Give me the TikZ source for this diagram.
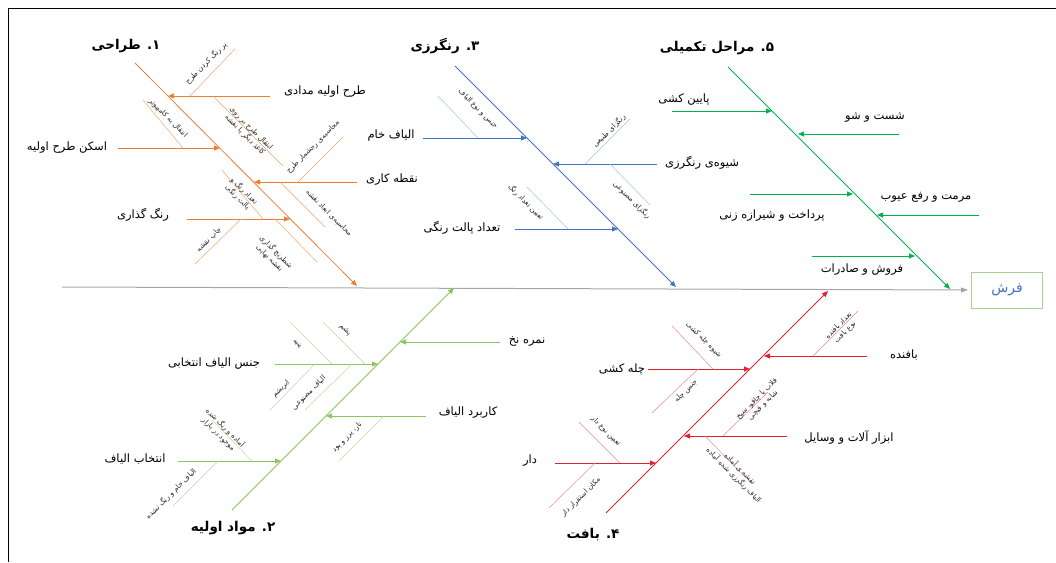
\documentclass[tikz,border=0pt]{standalone}
\usepackage{fontspec}
\usetikzlibrary{arrows.meta}
\TeXXeTstate=1
\newfontfamily\arabicfont[Script=Arabic]{DejaVu Sans}
\newcommand\rtl[1]{\beginR #1\endR}
\definecolor{cOr}{HTML}{ED7D31}
\definecolor{cOrL}{HTML}{F4A46A}
\definecolor{cBl}{HTML}{4472C4}
\definecolor{cBlL}{HTML}{9DC3E6}
\definecolor{cGr}{HTML}{00B050}
\definecolor{cLg}{HTML}{8CC45E}
\definecolor{cLgL}{HTML}{B8DDA0}
\definecolor{cRd}{HTML}{E0202A}
\definecolor{cRdL}{HTML}{EE8A8E}
\definecolor{cSp}{HTML}{A6A6A6}
\definecolor{cBox}{HTML}{A9D18E}
\begin{document}
\begin{tikzpicture}[x=1pt,y=-1pt,
 lbl/.style={font=\arabicfont\fontsize{11.5}{13}\selectfont, inner sep=1pt},
 ttl/.style={font=\arabicfont\bfseries\fontsize{13.5}{15}\selectfont, inner sep=1pt},
 sml/.style={font=\arabicfont\fontsize{7.2}{9}\selectfont, inner sep=0.5pt, align=center, text=black!85},
 bone/.style={line width=0.8pt, -{Triangle[length=6pt,width=5pt]}},
 rib/.style={line width=0.8pt, -{Triangle[length=6pt,width=5pt]}},
 twig/.style={line width=0.5pt},
]
\useasboundingbox (0,0) rectangle (1056,562);
\draw[line width=0.8pt] (8,562) -- (8,8) -- (1056,8);

% spine and head
\node[draw=cBox, line width=1pt, minimum width=71pt, minimum height=36pt, text=cBl,
      font=\arabicfont\fontsize{14}{16}\selectfont] (fsh) at (1007,290) {\rtl{فرش}};
\coordinate (sp) at (62,287);
\draw[line width=1pt, cSp, -{Triangle[length=7pt,width=5pt]}, shorten >=3pt] (sp) -- (fsh.west);

% ===== 1. design (orange)
\coordinate (B1s) at (135,63); \coordinate (B1e) at (357,286);
\draw[bone,cOr] (B1s) -- (B1e);
\node[ttl] (t1) at (126,46) {\rtl{۱. طراحی}};

\node[lbl] (m11) at (325,92) {\rtl{طرح اولیه مدادی}};
\coordinate (r11s) at (270,96); \coordinate (r11e) at (168,96);
\draw[rib,cOr] (r11s) -- (r11e);
\coordinate (w1a) at (190,96); \coordinate (w1b) at (235,49);
\draw[twig,cOrL] (w1a) -- (w1b);
\node[sml,rotate=45] (s1) at (206,63) {\rtl{پر رنگ کردن طرح}};
\coordinate (w2a) at (213,96); \coordinate (w2b) at (283,166);
\draw[twig,cOrL] (w2a) -- (w2b);
\node[sml,rotate=-45] (s2) at (248,132) {\rtl{انتقال طرح بر روی}\\\rtl{کاغذ دیگر یا نقشه}};

\node[lbl] (m12) at (67,148) {\rtl{اسکن طرح اولیه}};
\coordinate (r12s) at (118,148); \coordinate (r12e) at (220,148);
\draw[rib,cOr] (r12s) -- (r12e);
\coordinate (w3a) at (183,148); \coordinate (w3b) at (143,100);
\draw[twig,cOrL] (w3a) -- (w3b);
\node[sml,rotate=-45] (s3) at (168,118) {\rtl{انتقال به کامپیوتر}};

\node[lbl] (m13) at (392,180) {\rtl{نقطه کاری}};
\coordinate (r13s) at (357,182); \coordinate (r13e) at (254,182);
\draw[rib,cOr] (r13s) -- (r13e);
\coordinate (w4a) at (298,182); \coordinate (w4b) at (343,137);
\draw[twig,cOrL] (w4a) -- (w4b);
\node[sml,rotate=45] (s4) at (313,147) {\rtl{محاسبه‌ی رجشمار طرح}};
\coordinate (w5a) at (280,182); \coordinate (w5b) at (325,227);
\draw[twig,cOrL] (w5a) -- (w5b);
\node[sml,rotate=-45] (s5) at (329,213) {\rtl{محاسبه‌ی ابعاد نقشه}};

\node[lbl] (m14) at (143,215) {\rtl{رنگ گذاری}};
\coordinate (r14s) at (187,219); \coordinate (r14e) at (290,219);
\draw[rib,cOr] (r14s) -- (r14e);
\coordinate (w6a) at (263,219); \coordinate (w6b) at (222,170);
\draw[twig,cOrL] (w6a) -- (w6b);
\node[sml,rotate=-45] (s6) at (241,194) {\rtl{تعداد رنگ و}\\\rtl{پالت رنگی}};
\coordinate (w7a) at (241,219); \coordinate (w7b) at (195,264);
\draw[twig,cOrL] (w7a) -- (w7b);
\node[sml,rotate=45] (s7) at (209,240) {\rtl{چاپ نقشه}};
\coordinate (w8a) at (275,219); \coordinate (w8b) at (317,262);
\draw[twig,cOrL] (w8a) -- (w8b);
\node[sml,rotate=-45] (s8) at (273,255) {\rtl{شطرنج گذاری}\\\rtl{نقشه نهایی}};

% ===== 3. dyeing (blue)
\coordinate (B3s) at (455,66); \coordinate (B3e) at (676,287);
\draw[bone,cBl] (B3s) -- (B3e);
\node[ttl] (t3) at (445,46) {\rtl{۳. رنگرزی}};

\node[lbl] (m31) at (391,136) {\rtl{الیاف خام}};
\coordinate (r31s) at (423,138); \coordinate (r31e) at (527,138);
\draw[rib,cBl] (r31s) -- (r31e);
\coordinate (w9a) at (478,138); \coordinate (w9b) at (438,96);
\draw[twig,cBlL] (w9a) -- (w9b);
\node[sml,rotate=-45] (s9) at (478,109) {\rtl{جنس و نوع الیاف}};

\node[lbl] (m32) at (702,163) {\rtl{شیوه‌ی رنگرزی}};
\coordinate (r32s) at (657,164); \coordinate (r32e) at (553,164);
\draw[rib,cBl] (r32s) -- (r32e);
\coordinate (w10a) at (585,164); \coordinate (w10b) at (630,119);
\draw[twig,cBlL] (w10a) -- (w10b);
\node[sml,rotate=45] (s10) at (609,131) {\rtl{رنگزای طبیعی}};
\coordinate (w11a) at (610,164); \coordinate (w11b) at (650,205);
\draw[twig,cBlL] (w11a) -- (w11b);
\node[sml,rotate=-45] (s11) at (632,200) {\rtl{رنگزای مصنوعی}};

\node[lbl] (m33) at (462,228) {\rtl{تعداد پالت رنگی}};
\coordinate (r33s) at (515,229); \coordinate (r33e) at (618,229);
\draw[rib,cBl] (r33s) -- (r33e);
\coordinate (w12a) at (568,229); \coordinate (w12b) at (527,187);
\draw[twig,cBlL] (w12a) -- (w12b);
\node[sml,rotate=-45] (s12) at (526,202) {\rtl{تعیین تعداد رنگ}};

% ===== 5. finishing (green)
\coordinate (B5s) at (728,67); \coordinate (B5e) at (950,289);
\draw[bone,cGr] (B5s) -- (B5e);
\node[ttl] (t5) at (717,48) {\rtl{۵. مراحل تکمیلی}};

\node[lbl] (m51) at (684,100) {\rtl{پایین کشی}};
\coordinate (r51s) at (672,111); \coordinate (r51e) at (772,111);
\draw[rib,cGr] (r51s) -- (r51e);
\node[lbl] (m52) at (875,118) {\rtl{شست و شو}};
\coordinate (r52s) at (899,134); \coordinate (r52e) at (798,134);
\draw[rib,cGr] (r52s) -- (r52e);
\node[lbl] (m53) at (772,216) {\rtl{پرداخت و شیرازه زنی}};
\coordinate (r53s) at (750,194); \coordinate (r53e) at (853,194);
\draw[rib,cGr] (r53s) -- (r53e);
\node[lbl] (m54) at (926,197) {\rtl{مرمت و رفع عیوب}};
\coordinate (r54s) at (979,215); \coordinate (r54e) at (877,215);
\draw[rib,cGr] (r54s) -- (r54e);
\node[lbl] (m55) at (862,270) {\rtl{فروش و صادرات}};
\coordinate (r55s) at (812,256); \coordinate (r55e) at (915,256);
\draw[rib,cGr] (r55s) -- (r55e);

% ===== 2. raw materials (light green)
\coordinate (B2s) at (232,510); \coordinate (B2e) at (454,288);
\draw[bone,cLg] (B2s) -- (B2e);
\node[ttl] (t2) at (233,528) {\rtl{۲. مواد اولیه}};

\node[lbl] (m21) at (527,342) {\rtl{نمره نخ}};
\coordinate (r21s) at (500,342); \coordinate (r21e) at (400,342);
\draw[rib,cLg] (r21s) -- (r21e);

\node[lbl] (m22) at (214,364) {\rtl{جنس الیاف انتخابی}};
\coordinate (r22s) at (275,364); \coordinate (r22e) at (378,364);
\draw[rib,cLg] (r22s) -- (r22e);
\coordinate (w13a) at (332,364); \coordinate (w13b) at (290,322);
\draw[twig,cLgL] (w13a) -- (w13b);
\node[sml,rotate=-45] (s13) at (297,344) {\rtl{پنبه}};
\coordinate (w14a) at (365,364); \coordinate (w14b) at (323,322);
\draw[twig,cLgL] (w14a) -- (w14b);
\node[sml,rotate=-45] (s14) at (345,330) {\rtl{پشم}};
\coordinate (w15a) at (315,364); \coordinate (w15b) at (270,410);
\draw[twig,cLgL] (w15a) -- (w15b);
\node[sml,rotate=45] (s15) at (281,389) {\rtl{ابریشم}};
\coordinate (w16a) at (352,364); \coordinate (w16b) at (305,410);
\draw[twig,cLgL] (w16a) -- (w16b);
\node[sml,rotate=45] (s16) at (309,393) {\rtl{الیاف مصنوعی}};

\node[lbl] (m23) at (468,413) {\rtl{کاربرد الیاف}};
\coordinate (r23s) at (426,416); \coordinate (r23e) at (326,416);
\draw[rib,cLg] (r23s) -- (r23e);
\coordinate (w17a) at (384,416); \coordinate (w17b) at (339,461);
\draw[twig,cLgL] (w17a) -- (w17b);
\node[sml,rotate=45] (s17) at (347,437) {\rtl{تار، پرز و پود}};

\node[lbl] (m24) at (135,459) {\rtl{انتخاب الیاف}};
\coordinate (r24s) at (178,461); \coordinate (r24e) at (281,461);
\draw[rib,cLg] (r24s) -- (r24e);
\coordinate (w18a) at (252,461); \coordinate (w18b) at (212,420);
\draw[twig,cLgL] (w18a) -- (w18b);
\node[sml,rotate=-45] (s18) at (222,431) {\rtl{آماده و رنگ شده}\\\rtl{موجود در بازار}};
\coordinate (w19a) at (218,461); \coordinate (w19b) at (173,506);
\draw[twig,cLgL] (w19a) -- (w19b);
\node[sml,rotate=45] (s19) at (171,494) {\rtl{الیاف خام و رنگ نشده}};

% ===== 4. weaving (red)
\coordinate (B4s) at (606,513); \coordinate (B4e) at (828,291);
\draw[bone,cRd] (B4s) -- (B4e);
\node[ttl] (t4) at (593,535) {\rtl{۴. بافت}};

\node[lbl] (m41) at (904,355) {\rtl{بافنده}};
\coordinate (r41s) at (867,356); \coordinate (r41e) at (764,356);
\draw[rib,cRd] (r41s) -- (r41e);
\coordinate (w20a) at (813,356); \coordinate (w20b) at (858,311);
\draw[twig,cRdL] (w20a) -- (w20b);
\node[sml,rotate=45] (s20) at (842,329) {\rtl{تعداد بافنده}\\\rtl{نوع بافت}};

\node[lbl] (m42) at (622,369) {\rtl{چله کشی}};
\coordinate (r42s) at (648,369); \coordinate (r42e) at (750,369);
\draw[rib,cRd] (r42s) -- (r42e);
\coordinate (w21a) at (713,369); \coordinate (w21b) at (672,326);
\draw[twig,cRdL] (w21a) -- (w21b);
\node[sml,rotate=-45] (s21) at (704,340) {\rtl{شیوه چله کشی}};
\coordinate (w22a) at (698,369); \coordinate (w22b) at (652,413);
\draw[twig,cRdL] (w22a) -- (w22b);
\node[sml,rotate=45] (s22) at (686,391) {\rtl{جنس چله}};

\node[lbl] (m43) at (849,437) {\rtl{ابزار آلات و وسایل}};
\coordinate (r43s) at (787,436); \coordinate (r43e) at (684,436);
\draw[rib,cRd] (r43s) -- (r43e);
\coordinate (w23a) at (723,436); \coordinate (w23b) at (768,392);
\draw[twig,cRdL] (w23a) -- (w23b);
\node[sml,rotate=45] (s23) at (760,402) {\rtl{قلاب یا چاقو، سیخ}\\\rtl{شانه و قیچی}};
\coordinate (w24a) at (705,436); \coordinate (w24b) at (745,477);
\draw[twig,cRdL] (w24a) -- (w24b);
\node[sml,rotate=-45] (s24) at (737,472) {\rtl{نقشه ی آماده}\\\rtl{الیاف رنگرزی شده آماده}};

\node[lbl] (m44) at (530,461) {\rtl{دار}};
\coordinate (r44s) at (555,463); \coordinate (r44e) at (656,463);
\draw[rib,cRd] (r44s) -- (r44e);
\coordinate (w25a) at (620,463); \coordinate (w25b) at (579,422);
\draw[twig,cRdL] (w25a) -- (w25b);
\node[sml,rotate=-45] (s25) at (606,431) {\rtl{تعیین نوع دار}};
\coordinate (w26a) at (595,463); \coordinate (w26b) at (549,508);
\draw[twig,cRdL] (w26a) -- (w26b);
\node[sml,rotate=45] (s26) at (581,497) {\rtl{مکان استقرار دار}};
\end{tikzpicture}
\end{document}
